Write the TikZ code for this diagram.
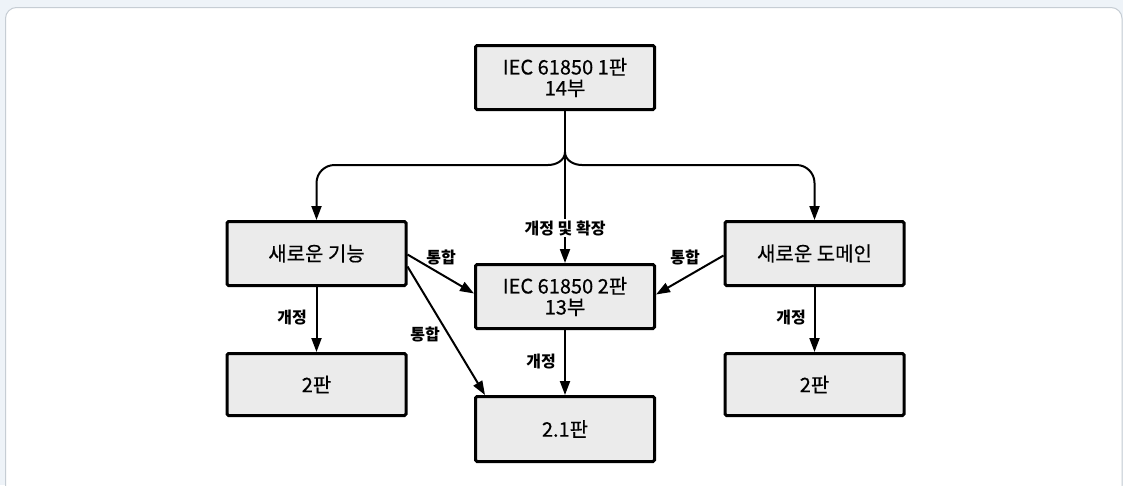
\documentclass[tikz,border=0pt]{standalone}
\usepackage{fontspec}
\setmainfont{Noto Sans CJK KR}
\newfontfamily\boxfont{Noto Sans CJK KR}[UprightFeatures={FakeBold=0.4}]
\usetikzlibrary{arrows.meta}
\definecolor{pagebg}{HTML}{EEF3F8}
\definecolor{framec}{HTML}{C6CDD4}
\definecolor{boxfill}{HTML}{EBEBEB}
\tikzset{
  box/.style={draw=black, line width=3pt, fill=boxfill, rounded corners=1.5pt,
    minimum width=179pt, minimum height=64pt, inner sep=0pt, align=center,
    font=\boxfont\fontsize{20}{21}\selectfont},
  conn/.style={line width=2pt, draw=black},
  arr/.style={conn, -{Triangle[length=14pt,width=10pt]}},
  lbl/.style={font=\normalfont\fontsize{16}{18}\selectfont\bfseries, inner sep=1pt},
}
\begin{document}
\begin{tikzpicture}[x=1pt,y=-1pt]
\useasboundingbox (0,0) rectangle (1123,485);
\fill[pagebg] (0,0) rectangle (1123,485);
\draw[framec, fill=white, line width=1pt, rounded corners=11pt] (5.5,7.5) rectangle (1122,500);

\node[box] (top) at (565,77.5) {IEC 61850 1판\\14부};
\node[box] (left) at (316.5,253.5) {새로운 기능};
\node[box] (mid) at (565,296.5) {IEC 61850 2판\\13부};
\node[box] (right) at (814.5,253.5) {새로운 도메인};
\node[box, minimum height=62pt] (lb) at (316.5,384.5) {2판};
\node[box, minimum height=65pt] (mb) at (565,429) {2.1판};
\node[box, minimum height=62pt] (rb) at (814.5,384.5) {2판};

\coordinate (j) at (565,152);
% main vertical
\draw[arr] (top.south) -- (mid.north);
\node[lbl, fill=white] (l0) at (565,228) {개정 및 확장};
% branches
\draw[arr] (j) to[out=-90,in=0] (548,165) [rounded corners=18pt] -| (left.north);
\draw[arr] (j) to[out=-90,in=180] (582,165) [rounded corners=18pt] -| (right.north);

% integration arrows
\draw[arr] ([yshift=-1pt]left.east) -- ([yshift=3pt]mid.west);
\node[lbl] (l1) at (441,257) {통합};
\draw[arr] ([yshift=-13pt]left.east) -- ([xshift=11pt]mb.north west);
\node[lbl] (l2) at (425,334) {통합};
\draw[arr] ([yshift=-2pt]right.west) -- ([yshift=2pt]mid.east);
\node[lbl] (l3) at (685,257) {통합};

% revisions
\draw[arr] (left.south) -- (lb.north);
\node[lbl] (l4) at (292,318) {개정};
\draw[arr] (mid.south) -- (mb.north);
\node[lbl] (l5) at (541,362) {개정};
\draw[arr] (right.south) -- (rb.north);
\node[lbl] (l6) at (791,318) {개정};
\end{tikzpicture}
\end{document}
